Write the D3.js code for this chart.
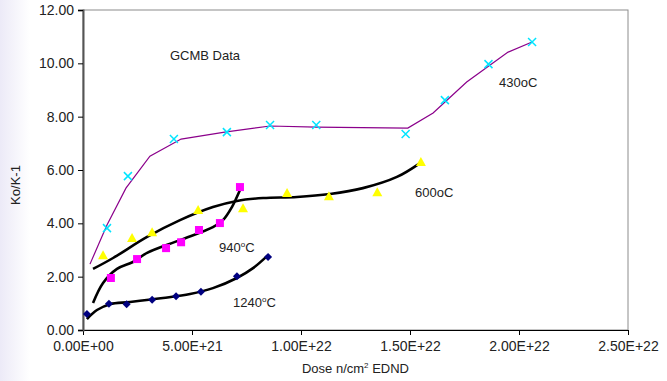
<!DOCTYPE html>
<html>
<head>
<meta charset="utf-8">
<script src="https://cdn.jsdelivr.net/npm/d3@7"></script>
<style>
  body { margin: 0; background: #fff; }
  svg { font-family: "Liberation Sans", Arial, sans-serif; }
</style>
</head>
<body>
<svg></svg>
<script>
// 430oC measured points (cyan x) and its line
var dose430 = [1.1e21, 2.06e21, 4.17e21, 6.6e21, 8.58e21, 10.7e21, 14.8e21, 16.6e21, 18.6e21, 20.6e21];
var k430 = [3.82, 5.77, 7.16, 7.42, 7.69, 7.69, 7.35, 8.62, 9.97, 10.8];
var line430Dose = [0.32e21, 1.1e21, 1.97e21, 3.07e21, 4.5e21, 6.5e21, 8.58e21, 10.7e21, 14.9e21, 16.06e21, 17.6e21, 19.5e21, 20.6e21];
var line430K = [2.47, 3.94, 5.32, 6.52, 7.16, 7.42, 7.65, 7.61, 7.57, 8.14, 9.3, 10.42, 10.8];

// 600oC (yellow triangles)
var dose600 = [0.92e21, 2.25e21, 3.17e21, 5.28e21, 7.34e21, 9.36e21, 11.28e21, 13.5e21, 15.5e21];
var k600 = [2.8, 3.45, 3.67, 4.5, 4.57, 5.14, 5.02, 5.17, 6.3];
var fit600Dose = [0.46e21, 1.38e21, 2.94e21, 4.45e21, 5.96e21, 7.06e21, 8.26e21, 9.82e21, 11.33e21, 12.84e21, 14.4e21, 15.46e21];
var fit600K = [2.29, 2.7, 3.49, 4.12, 4.61, 4.84, 4.95, 4.99, 5.1, 5.32, 5.74, 6.26];

// 940oC (magenta squares)
var dose940 = [1.28e21, 2.48e21, 3.81e21, 4.5e21, 5.32e21, 6.28e21, 7.2e21];
var k940 = [1.95, 2.66, 3.07, 3.29, 3.75, 4.01, 5.36];
var fit940Dose = [0.46e21, 0.92e21, 1.56e21, 2.29e21, 2.94e21, 4.45e21, 5.96e21, 6.42e21, 6.83e21, 7.2e21];
var fit940K = [1.01, 1.76, 2.29, 2.55, 2.89, 3.37, 3.86, 4.12, 4.61, 5.25];

// 1240oC (navy diamonds)
var dose1240 = [0.18e21, 1.19e21, 2.0e21, 3.17e21, 4.27e21, 5.41e21, 7.06e21, 8.49e21];
var k1240 = [0.6, 0.98, 0.97, 1.13, 1.27, 1.43, 2.02, 2.74];
var fit1240Dose = [0.18e21, 0.64e21, 1.24e21, 2.16e21, 3.67e21, 4.91e21, 5.96e21, 7.06e21, 7.8e21, 8.44e21];
var fit1240K = [0.41, 0.75, 0.97, 1.05, 1.2, 1.35, 1.57, 1.95, 2.32, 2.77];

var xTicks = [0, 5e21, 1e22, 1.5e22, 2e22, 2.5e22];
var yTicks = [0, 2, 4, 6, 8, 10, 12];

var svgWidth = 667, svgHeight = 381;
var plotLeft = 83, plotRight = 628, plotTop = 10, plotBottom = 330;

var svg = d3.select('svg')
    .attr("width", svgWidth)
    .attr("height", svgHeight);

var x = d3.scaleLinear().domain([0, 2.5e22]).range([plotLeft, plotRight]);
var y = d3.scaleLinear().domain([0, 12]).range([plotBottom, plotTop]);

function pts(xs, ys) {
    return xs.map(function (d, i) { return [d, ys[i]]; });
}

function sci(d) {
    var s = d.toExponential(2).toUpperCase();
    var parts = s.split("E");
    var sign = parts[1][0];
    var ex = parts[1].slice(1);
    if (ex.length < 2) ex = "0" + ex;
    return parts[0] + "E" + sign + ex;
}

// faint tint on the left edge
var grad = svg.append("defs").append("linearGradient").attr("id", "edge");
grad.append("stop").attr("offset", "0%").attr("stop-color", "#eceaf7");
grad.append("stop").attr("offset", "100%").attr("stop-color", "#ffffff");
svg.append("rect").attr("x", 0).attr("y", 0).attr("width", 30).attr("height", svgHeight).attr("fill", "url(#edge)");

// plot frame
svg.append("rect")
    .attr("x", plotLeft).attr("y", plotTop)
    .attr("width", plotRight - plotLeft).attr("height", plotBottom - plotTop)
    .attr("fill", "none")
    .attr("stroke", "#8c8c8c")
    .attr("stroke-width", 1);

// axes
var xAxis = svg.append("g")
    .attr("transform", "translate(0," + plotBottom + ")")
    .call(d3.axisBottom(x).tickValues(xTicks).tickFormat(sci).tickSizeOuter(0).tickSize(5).tickPadding(6));
var yAxis = svg.append("g")
    .attr("transform", "translate(" + plotLeft + ",0)")
    .call(d3.axisLeft(y).tickValues(yTicks).tickFormat(d3.format(".2f")).tickSizeOuter(0).tickSize(5).tickPadding(4));

xAxis.select(".domain").attr("stroke", "#000");
yAxis.select(".domain").attr("stroke", "#555").attr("stroke-width", 2);
svg.selectAll(".tick text")
    .attr("font-size", 14)
    .attr("font-family", "Liberation Sans, Arial, sans-serif")
    .attr("fill", "#222");

// axis titles
var xTitle = svg.append("text")
    .attr("x", (plotLeft + plotRight) / 2).attr("y", 373)
    .attr("text-anchor", "middle")
    .attr("font-size", 13)
    .attr("fill", "#222")
    .text("Dose n/cm");
xTitle.append("tspan").attr("font-size", 8).attr("dy", -5).text("2");
xTitle.append("tspan").attr("dy", 5).text(" EDND");

svg.append("text")
    .attr("transform", "translate(20,185) rotate(-90)")
    .attr("text-anchor", "middle")
    .attr("font-size", 13)
    .attr("fill", "#222")
    .text("Ko/K-1");

// 430 line
var lineGen = d3.line()
    .x(function (d) { return x(d[0]); })
    .y(function (d) { return y(d[1]); });

svg.append("path")
    .datum(pts(line430Dose, line430K))
    .attr("d", lineGen)
    .attr("fill", "none")
    .attr("stroke", "#8b008b")
    .attr("stroke-width", 1.2);

// trendlines
var curveGen = d3.line()
    .curve(d3.curveCatmullRom.alpha(0.5))
    .x(function (d) { return x(d[0]); })
    .y(function (d) { return y(d[1]); });

[[fit600Dose, fit600K], [fit940Dose, fit940K], [fit1240Dose, fit1240K]].forEach(function (f) {
    svg.append("path")
        .datum(pts(f[0], f[1]))
        .attr("d", curveGen)
        .attr("fill", "none")
        .attr("stroke", "#000")
        .attr("stroke-width", 2.6);
});

// markers
svg.selectAll("path.cross")
    .data(pts(dose430, k430))
    .enter()
    .append("path")
    .attr("class", "cross")
    .attr("d", "M-4,-4L4,4M-4,4L4,-4")
    .attr("stroke", "#00e5ff")
    .attr("stroke-width", 1.5)
    .attr("transform", function (d) { return "translate(" + x(d[0]) + "," + y(d[1]) + ")"; });

svg.selectAll("path.tri")
    .data(pts(dose600, k600))
    .enter()
    .append("path")
    .attr("class", "tri")
    .attr("d", "M0,-5L5,4L-5,4Z")
    .attr("fill", "#ffff00")
    .attr("transform", function (d) { return "translate(" + x(d[0]) + "," + y(d[1]) + ")"; });

svg.selectAll("rect.sq")
    .data(pts(dose940, k940))
    .enter()
    .append("rect")
    .attr("class", "sq")
    .attr("x", function (d) { return x(d[0]) - 4; })
    .attr("y", function (d) { return y(d[1]) - 4; })
    .attr("width", 8).attr("height", 8)
    .attr("fill", "#ff00ff");

svg.selectAll("path.dia")
    .data(pts(dose1240, k1240))
    .enter()
    .append("path")
    .attr("class", "dia")
    .attr("d", "M0,-4L4,0L0,4L-4,0Z")
    .attr("fill", "#000080")
    .attr("transform", function (d) { return "translate(" + x(d[0]) + "," + y(d[1]) + ")"; });

// annotations
svg.append("text").attr("x", 170).attr("y", 60).attr("font-size", 13).attr("fill", "#222").text("GCMB Data");
svg.append("text").attr("x", 499).attr("y", 87).attr("font-size", 13).attr("fill", "#222").text("430oC");
svg.append("text").attr("x", 415).attr("y", 197).attr("font-size", 13).attr("fill", "#222").text("600oC");

var t940 = svg.append("text").attr("x", 219).attr("y", 252).attr("font-size", 13).attr("fill", "#222").text("940");
t940.append("tspan").attr("font-size", 8).attr("dy", -5).text("o");
t940.append("tspan").attr("dy", 5).text("C");

var t1240 = svg.append("text").attr("x", 233).attr("y", 307).attr("font-size", 13).attr("fill", "#222").text("1240");
t1240.append("tspan").attr("font-size", 8).attr("dy", -5).text("o");
t1240.append("tspan").attr("dy", 5).text("C");
</script>
</body>
</html>
